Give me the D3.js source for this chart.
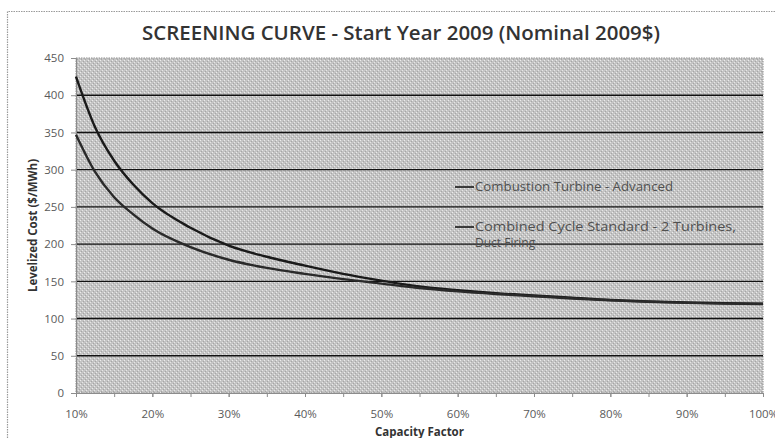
<!DOCTYPE html>
<html>
<head>
<meta charset="utf-8">
<script src="https://cdn.jsdelivr.net/npm/d3@7"></script>
<style>
  html, body { margin: 0; padding: 0; background: #fff; }
  svg { display: block; }
  text { font-family: "Open Sans", "DejaVu Sans", sans-serif; }
</style>
</head>
<body>
<svg id="chart" width="775" height="438"></svg>
<script>
// ---- data ----
const capacityFactor = [0.10, 0.125, 0.15, 0.175, 0.20, 0.25, 0.30, 0.35, 0.40, 0.45, 0.50, 0.55, 0.60, 0.65, 0.70, 0.75, 0.80, 0.85, 0.90, 0.95, 1.00];
const combustionTurbine = [425, 357, 312, 280, 255, 222, 198, 183, 171, 160, 151, 143, 138, 134, 131, 128, 125, 123, 121.5, 120.5, 120];
const combinedCycle     = [347, 297, 263, 240, 221, 196, 179, 168, 160, 153, 147, 141, 136.5, 133, 130, 127, 124.5, 122.5, 121, 120, 119.5];
const seriesNames = ["Combustion Turbine - Advanced", "Combined Cycle Standard - 2 Turbines,", "Duct Firing"];
const yTicks = [0, 50, 100, 150, 200, 250, 300, 350, 400, 450];
const xMajorTicks = [0.1, 0.2, 0.3, 0.4, 0.5, 0.6, 0.7, 0.8, 0.9, 1.0];
const xMinorTicks = [0.1, 0.15, 0.2, 0.25, 0.3, 0.35, 0.4, 0.45, 0.5, 0.55, 0.6, 0.65, 0.7, 0.75, 0.8, 0.85, 0.9, 0.95, 1.0];
const titleText = "SCREENING CURVE - Start Year 2009 (Nominal 2009$)";
const xTitle = "Capacity Factor";
const yTitle = "Levelized Cost ($/MWh)";

// ---- layout ----
const svg = d3.select("#chart");
const plot = { left: 76, right: 763, top: 58, bottom: 393 };

const x = d3.scaleLinear().domain([0.1, 1.0]).range([plot.left, plot.right]);
const y = d3.scaleLinear().domain([0, 450]).range([plot.bottom, plot.top]);

// outer chart border (dotted)
svg.append("path")
  .attr("d", "M7.5,438 L7.5,11.5 L775,11.5")
  .attr("fill", "none")
  .attr("stroke", "#9a9a9a")
  .attr("stroke-width", 1.2)
  .attr("stroke-dasharray", "1.5,1");

// dithered plot background
const defs = svg.append("defs");
const pat = defs.append("pattern")
  .attr("id", "dither").attr("width", 4).attr("height", 4)
  .attr("patternUnits", "userSpaceOnUse");
pat.append("rect").attr("width", 4).attr("height", 4).attr("fill", "#c4c4c4");
pat.append("rect").attr("x", 0).attr("y", 0).attr("width", 1).attr("height", 1).attr("fill", "#ececec");
pat.append("rect").attr("x", 2).attr("y", 2).attr("width", 1).attr("height", 1).attr("fill", "#e6e6e6");
pat.append("rect").attr("x", 1).attr("y", 3).attr("width", 1).attr("height", 1).attr("fill", "#a6a6a6");
pat.append("rect").attr("x", 3).attr("y", 1).attr("width", 1).attr("height", 1).attr("fill", "#a6a6a6");

svg.append("rect")
  .attr("x", plot.left).attr("y", plot.top)
  .attr("width", plot.right - plot.left).attr("height", plot.bottom - plot.top)
  .attr("fill", "url(#dither)")
  .attr("stroke", "#8c8c8c").attr("stroke-width", 1).attr("stroke-dasharray", "1.5,1");

// gridlines
svg.append("g")
  .selectAll("line")
  .data(yTicks.filter(d => d > 0 && d < 450))
  .join("line")
  .attr("x1", plot.left).attr("x2", plot.right)
  .attr("y1", d => y(d)).attr("y2", d => y(d))
  .attr("stroke", "#111").attr("stroke-width", 1.4);

// y axis
const yAxis = svg.append("g")
  .attr("transform", `translate(${plot.left},0)`)
  .call(d3.axisLeft(y).tickValues(yTicks).tickSize(5).tickPadding(7).tickFormat(d3.format("d")));
yAxis.select(".domain").attr("stroke", "#8c8c8c");
yAxis.selectAll(".tick line").attr("stroke", "#8c8c8c");
yAxis.selectAll("text").attr("font-size", 11.5).attr("fill", "#5a5a5a")
  .style("font-family", "'Open Sans', sans-serif");

// x axis: minor ticks + labelled major
const xAxisMinor = svg.append("g")
  .attr("transform", `translate(0,${plot.bottom})`)
  .call(d3.axisBottom(x).tickValues(xMinorTicks).tickSize(4).tickFormat(""));
xAxisMinor.select(".domain").attr("stroke", "#8c8c8c");
xAxisMinor.selectAll(".tick line").attr("stroke", "#8c8c8c");

const xAxis = svg.append("g")
  .attr("transform", `translate(0,${plot.bottom})`)
  .call(d3.axisBottom(x).tickValues(xMajorTicks).tickSize(4).tickPadding(13).tickFormat(d3.format(".0%")));
xAxis.select(".domain").remove();
xAxis.selectAll(".tick line").attr("stroke", "#8c8c8c");
xAxis.selectAll("text").attr("font-size", 11.5).attr("fill", "#5a5a5a")
  .style("font-family", "'Open Sans', sans-serif");

// curves
const line = d3.line()
  .x((d, i) => x(capacityFactor[i]))
  .y(d => y(d))
  .curve(d3.curveMonotoneX);

svg.append("path").datum(combustionTurbine)
  .attr("d", line).attr("fill", "none")
  .attr("stroke", "#1a1a1a").attr("stroke-width", 2.4);
svg.append("path").datum(combinedCycle)
  .attr("d", line).attr("fill", "none")
  .attr("stroke", "#2a2a2a").attr("stroke-width", 2.4);

// legend
const legend = svg.append("g").attr("transform", "translate(455,0)");
const legendRows = [
  { y: 187, text: seriesNames[0], swatch: true, len: 198 },
  { y: 227, text: seriesNames[1], swatch: true, len: 261 },
  { y: 243, text: seriesNames[2], swatch: false, len: null }
];
legendRows.forEach(r => {
  if (r.swatch) {
    legend.append("line").attr("x1", 0).attr("x2", 19)
      .attr("y1", r.y).attr("y2", r.y)
      .attr("stroke", "#1a1a1a").attr("stroke-width", 1.6);
  }
  const t = legend.append("text")
    .attr("x", 20).attr("y", r.y).attr("dy", "0.35em")
    .attr("font-size", 12).attr("fill", "#505050")
    .text(r.text);
  if (r.len) t.attr("textLength", r.len).attr("lengthAdjust", "spacingAndGlyphs");
});

// title
svg.append("text")
  .attr("x", 142).attr("y", 40)
  .attr("font-size", 19).attr("font-weight", 600).attr("fill", "#333")
  .attr("textLength", 518).attr("lengthAdjust", "spacingAndGlyphs")
  .text(titleText);

// axis titles
svg.append("text")
  .attr("x", (plot.left + plot.right) / 2).attr("y", 436)
  .attr("text-anchor", "middle")
  .attr("font-size", 11.5).attr("font-weight", 700).attr("fill", "#333")
  .text(xTitle);

svg.append("text")
  .attr("transform", `translate(37,${(plot.top + plot.bottom) / 2}) rotate(-90)`)
  .attr("text-anchor", "middle")
  .attr("font-size", 11.5).attr("font-weight", 700).attr("fill", "#333")
  .text(yTitle);
</script>
</body>
</html>
